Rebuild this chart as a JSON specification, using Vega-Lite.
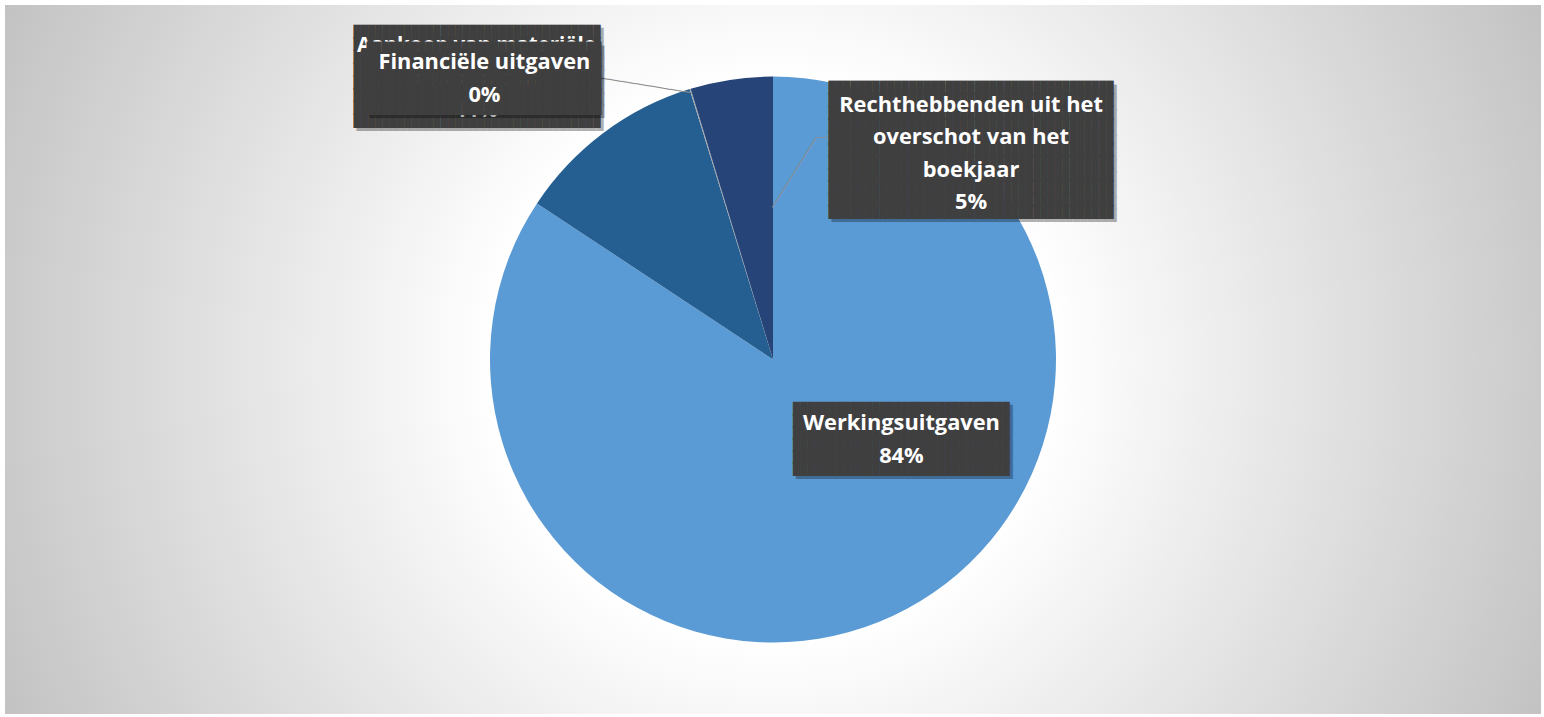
{
  "$schema": "https://vega.github.io/schema/vega-lite/v6.json",
  "width": 1536,
  "height": 709,
  "autosize": {"type": "none"},
  "padding": {"left": 5, "top": 5, "right": 3, "bottom": 3},
  "background": "#ffffff",
  "config": {"view": {"stroke": null}},
  "layer": [
    {
      "data": {"values": [{}]},
      "mark": {
        "type": "rect",
        "fill": {
          "gradient": "radial",
          "x1": 0.5, "y1": 0.5, "r1": 0,
          "x2": 0.5, "y2": 0.5, "r2": 0.56,
          "stops": [
            {"offset": 0, "color": "#ffffff"},
            {"offset": 0.326, "color": "#ffffff"},
            {"offset": 1, "color": "#c1c1c1"}
          ]
        }
      },
      "encoding": {}
    },
    {
      "data": {
        "values": [
          {"categorie": "Werkingsuitgaven", "aandeel": 0.843, "volgorde": 1},
          {"categorie": "Aankoop van materiële vaste activa", "aandeel": 0.1094, "volgorde": 2},
          {"categorie": "Financiële uitgaven", "aandeel": 0.0006, "volgorde": 3},
          {"categorie": "Rechthebbenden uit het overschot van het boekjaar", "aandeel": 0.047, "volgorde": 4}
        ]
      },
      "transform": [
        {
          "calculate": "datum.categorie === 'Rechthebbenden uit het overschot van het boekjaar' ? ['Rechthebbenden uit het', 'overschot van het', 'boekjaar', format(datum.aandeel, '.0%')] : datum.categorie === 'Aankoop van materiële vaste activa' ? ['Aankoop van materiële', 'vaste activa', format(datum.aandeel, '.0%')] : [datum.categorie, format(datum.aandeel, '.0%')]",
          "as": "label"
        }
      ],
      "encoding": {
        "theta": {"field": "aandeel", "type": "quantitative", "stack": true},
        "order": {"field": "volgorde", "type": "quantitative"},
        "detail": {"field": "categorie", "type": "nominal"}
      },
      "layer": [
        {
          "mark": {"type": "arc", "outerRadius": 283},
          "encoding": {
            "color": {
              "field": "categorie",
              "type": "nominal",
              "scale": {
                "domain": ["Werkingsuitgaven", "Aankoop van materiële vaste activa", "Financiële uitgaven", "Rechthebbenden uit het overschot van het boekjaar"],
                "range": ["#5b9bd5", "#255e91", "#a5a5a5", "#264478"]
              },
              "legend": null
            }
          }
        },
        {
          "mark": {"type": "text", "font": "DejaVu Sans Mono", "fontSize": 11.78, "color": "#8c8c8c", "align": "right", "baseline": "middle", "radius": 279, "angle": 9.24, "text": "─────────────"},
          "encoding": {"opacity": {"condition": {"test": "datum.categorie === 'Financiële uitgaven'", "value": 1}, "value": 0}}
        },
        {
          "mark": {"type": "text", "font": "DejaVu Sans Mono", "fontSize": 11.45, "color": "#8c8c8c", "align": "left", "baseline": "middle", "radius": 153.2, "angle": 302.15, "dx": 11.97, "dy": 19.06, "text": "────────────"},
          "encoding": {"opacity": {"condition": {"test": "datum.categorie === 'Rechthebbenden uit het overschot van het boekjaar'", "value": 1}, "value": 0}}
        },
        {
          "mark": {"type": "text", "font": "DejaVu Sans Mono", "fontSize": 9.13, "color": "#8c8c8c", "align": "left", "baseline": "middle", "radius": 223.9, "dx": 76.9, "dy": 0, "text": "──"},
          "encoding": {"opacity": {"condition": {"test": "datum.categorie === 'Rechthebbenden uit het overschot van het boekjaar'", "value": 1}, "value": 0}}
        },
        {
          "mark": {"type": "text", "font": "DejaVu Sans Mono", "fontSize": 12.07, "lineHeight": 12.7, "color": "#000000", "align": "center", "baseline": "middle", "radius": 404, "dx": -50.9, "dy": -0.85,
            "text": ["██████████████████████████████████", "██████████████████████████████████", "██████████████████████████████████", "██████████████████████████████████", "██████████████████████████████████", "██████████████████████████████████", "██████████████████████████████████", "██████████████████████████████████"]},
          "encoding": {"opacity": {"condition": {"test": "datum.categorie === 'Aankoop van materiële vaste activa'", "value": 0.3}, "value": 0}}
        },
        {
          "mark": {"type": "text", "font": "DejaVu Sans Mono", "fontSize": 12.07, "lineHeight": 12.7, "color": "#3f3f3f", "align": "center", "baseline": "middle", "radius": 404, "dx": -53.9, "dy": -4.35,
            "text": ["██████████████████████████████████", "██████████████████████████████████", "██████████████████████████████████", "██████████████████████████████████", "██████████████████████████████████", "██████████████████████████████████", "██████████████████████████████████", "██████████████████████████████████"]},
          "encoding": {"opacity": {"condition": {"test": "datum.categorie === 'Aankoop van materiële vaste activa'", "value": 1}, "value": 0}}
        },
        {
          "mark": {"type": "text", "font": "Open Sans", "fontWeight": "bold", "fontSize": 20.5, "lineHeight": 32.5, "color": "#ffffff", "align": "center", "baseline": "middle", "radius": 404, "dx": -54.4, "dy": 10.1},
          "encoding": {
            "text": {"field": "label", "type": "nominal"},
            "opacity": {"condition": {"test": "datum.categorie === 'Aankoop van materiële vaste activa'", "value": 1}, "value": 0}
          }
        },
        {
          "mark": {"type": "text", "font": "DejaVu Sans Mono", "fontSize": 12.2, "lineHeight": 11.76, "color": "#000000", "align": "center", "baseline": "middle", "radius": 354, "dx": -182.4, "dy": 31.5,
            "text": ["████████████████████████████████", "████████████████████████████████", "████████████████████████████████", "████████████████████████████████", "████████████████████████████████", "████████████████████████████████"]},
          "encoding": {"opacity": {"condition": {"test": "datum.categorie === 'Financiële uitgaven'", "value": 0.3}, "value": 0}}
        },
        {
          "mark": {"type": "text", "font": "DejaVu Sans Mono", "fontSize": 12.2, "lineHeight": 11.76, "color": "#3f3f3f", "align": "center", "baseline": "middle", "radius": 354, "dx": -185.4, "dy": 28.0,
            "text": ["████████████████████████████████", "████████████████████████████████", "████████████████████████████████", "████████████████████████████████", "████████████████████████████████", "████████████████████████████████"]},
          "encoding": {"opacity": {"condition": {"test": "datum.categorie === 'Financiële uitgaven'", "value": 1}, "value": 0}}
        },
        {
          "mark": {"type": "text", "font": "Open Sans", "fontWeight": "bold", "fontSize": 21.8, "lineHeight": 32.5, "color": "#ffffff", "align": "center", "baseline": "middle", "radius": 354, "dx": -184.9, "dy": 41.35},
          "encoding": {
            "text": {"field": "label", "type": "nominal"},
            "opacity": {"condition": {"test": "datum.categorie === 'Financiële uitgaven'", "value": 1}, "value": 0}
          }
        },
        {
          "mark": {"type": "text", "font": "DejaVu Sans Mono", "fontSize": 12.15, "lineHeight": 12.39, "color": "#000000", "align": "center", "baseline": "middle", "radius": 176, "dx": 226.9, "dy": -93.85,
            "text": ["███████████████████████████████████████", "███████████████████████████████████████", "███████████████████████████████████████", "███████████████████████████████████████", "███████████████████████████████████████", "███████████████████████████████████████", "███████████████████████████████████████", "███████████████████████████████████████", "███████████████████████████████████████", "███████████████████████████████████████", "███████████████████████████████████████"]},
          "encoding": {"opacity": {"condition": {"test": "datum.categorie === 'Rechthebbenden uit het overschot van het boekjaar'", "value": 0.3}, "value": 0}}
        },
        {
          "mark": {"type": "text", "font": "DejaVu Sans Mono", "fontSize": 12.15, "lineHeight": 12.39, "color": "#3f3f3f", "align": "center", "baseline": "middle", "radius": 176, "dx": 223.9, "dy": -97.35,
            "text": ["███████████████████████████████████████", "███████████████████████████████████████", "███████████████████████████████████████", "███████████████████████████████████████", "███████████████████████████████████████", "███████████████████████████████████████", "███████████████████████████████████████", "███████████████████████████████████████", "███████████████████████████████████████", "███████████████████████████████████████", "███████████████████████████████████████"]},
          "encoding": {"opacity": {"condition": {"test": "datum.categorie === 'Rechthebbenden uit het overschot van het boekjaar'", "value": 1}, "value": 0}}
        },
        {
          "mark": {"type": "text", "font": "Open Sans", "fontWeight": "bold", "fontSize": 21.8, "lineHeight": 32.3, "color": "#ffffff", "align": "center", "baseline": "middle", "radius": 176, "dx": 223.9, "dy": -80.5},
          "encoding": {
            "text": {"field": "label", "type": "nominal"},
            "opacity": {"condition": {"test": "datum.categorie === 'Rechthebbenden uit het overschot van het boekjaar'", "value": 1}, "value": 0}
          }
        },
        {
          "mark": {"type": "text", "font": "DejaVu Sans Mono", "fontSize": 12, "lineHeight": 12, "color": "#000000", "align": "center", "baseline": "middle", "radius": 131, "dx": 69.4, "dy": -62.4,
            "text": ["██████████████████████████████", "██████████████████████████████", "██████████████████████████████", "██████████████████████████████", "██████████████████████████████", "██████████████████████████████"]},
          "encoding": {"opacity": {"condition": {"test": "datum.categorie === 'Werkingsuitgaven'", "value": 0.3}, "value": 0}}
        },
        {
          "mark": {"type": "text", "font": "DejaVu Sans Mono", "fontSize": 12, "lineHeight": 12, "color": "#3f3f3f", "align": "center", "baseline": "middle", "radius": 131, "dx": 66.4, "dy": -65.9,
            "text": ["██████████████████████████████", "██████████████████████████████", "██████████████████████████████", "██████████████████████████████", "██████████████████████████████", "██████████████████████████████"]},
          "encoding": {"opacity": {"condition": {"test": "datum.categorie === 'Werkingsuitgaven'", "value": 1}, "value": 0}}
        },
        {
          "mark": {"type": "text", "font": "Open Sans", "fontWeight": "bold", "fontSize": 21.8, "lineHeight": 32.5, "color": "#ffffff", "align": "center", "baseline": "middle", "radius": 131, "dx": 66.4, "dy": -51.4},
          "encoding": {
            "text": {"field": "label", "type": "nominal"},
            "opacity": {"condition": {"test": "datum.categorie === 'Werkingsuitgaven'", "value": 1}, "value": 0}
          }
        }
      ]
    }
  ]
}
